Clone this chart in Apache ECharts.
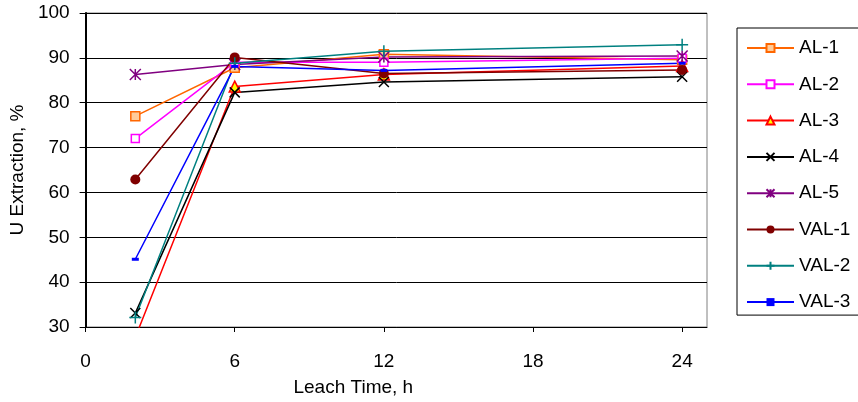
<!DOCTYPE html>
<html>
<head>
<meta charset="utf-8">
<script src="https://cdn.jsdelivr.net/npm/echarts@6/dist/echarts.min.js"></script>
<style>
  html, body { margin: 0; padding: 0; background: #fff; }
  #chart { width: 858px; height: 402px; }
</style>
</head>
<body>
<div id="chart"></div>
<script>
// leach times (h)
const hours = [2, 6, 12, 24];

// U extraction, %
const al1 = [77, 87.8, 90.8, 89.6];
const al2 = [72, 89, 89, 89.9];
const al3 = [27.7, 83.6, 86.3, 88.2];
const al4 = [33.1, 82.3, 84.6, 85.8];
const al5 = [86.3, 88.5, 90.2, 90.4];
const val1 = [62.9, 90.1, 86.5, 87.3];
const val2 = [32.1, 88.8, 91.5, 92.9];
const val3 = [45.1, 88.1, 87.2, 88.8];

const FONT = 'Liberation Sans, Arial, sans-serif';

function pairs(vals) {
  return hours.map((h, i) => [h, vals[i]]);
}

function makeSeries(name, vals, line, sym) {
  return {
    name: name,
    type: 'line',
    data: pairs(vals),
    symbol: sym.symbol,
    symbolSize: sym.size,
    symbolKeepAspect: true,
    lineStyle: { color: line, width: 1.5 },
    itemStyle: {
      color: sym.fill,
      borderColor: sym.border || line,
      borderWidth: sym.bw == null ? 1.5 : sym.bw,
    },
    emphasis: { disabled: true },
  };
}

const crossPath = 'path://M0,0L10,10M10,0L0,10';
const starPath = 'path://M0,0L10,10M10,0L0,10M5,0L5,10';
const plusPath = 'path://M5,0L5,10M0,5L10,5';
const dashPath = 'path://M0,0L7,0L7,3L0,3Z';

const series = [
  makeSeries('AL-1', al1, '#FF6600', { symbol: 'rect', size: 9, fill: '#FFCC99' }),
  makeSeries('AL-2', al2, '#FF00FF', { symbol: 'rect', size: 8, fill: '#FFFFFF' }),
  makeSeries('AL-3', al3, '#FF0000', { symbol: 'triangle', size: 11, fill: '#FFFF00' }),
  makeSeries('AL-4', al4, '#000000', { symbol: crossPath, size: 10, fill: '#000000' }),
  makeSeries('AL-5', al5, '#800080', { symbol: starPath, size: 11, fill: '#800080' }),
  makeSeries('VAL-1', val1, '#800000', { symbol: 'circle', size: 10, fill: '#800000', bw: 0 }),
  makeSeries('VAL-2', val2, '#008080', { symbol: plusPath, size: 12, fill: '#008080' }),
  makeSeries('VAL-3', val3, '#0000FF', { symbol: dashPath, size: 7, fill: '#0000FF', bw: 0 }),
];

const chart = echarts.init(document.getElementById('chart'));
chart.setOption({
  backgroundColor: '#fff',
  animation: false,
  textStyle: { fontFamily: FONT },
  grid: {
    left: 85,
    right: 151,
    top: 13,
    bottom: 74,
    show: true,
    borderColor: '#808080',
    borderWidth: 1,
  },
  legend: {
    orient: 'vertical',
    left: 737,
    top: 28,
    padding: [10, 40, 3, 9],
    itemWidth: 47,
    itemHeight: 10,
    itemGap: 16.3,
    borderColor: '#000',
    borderWidth: 1,
    backgroundColor: '#fff',
    textStyle: { fontSize: 19, color: '#000', fontFamily: FONT, lineHeight: 20 },
    data: series.map(s => s.name),
  },
  xAxis: {
    type: 'value',
    min: 0,
    max: 25,
    interval: 6,
    name: 'Leach Time, h',
    nameLocation: 'middle',
    nameGap: 51,
    nameTextStyle: { fontSize: 19, color: '#000', padding: [0, 86, 0, 0] },
    axisLine: { show: true, onZero: false, lineStyle: { color: '#000', width: 1 } },
    axisTick: { show: true, length: 5, lineStyle: { color: '#000' } },
    axisLabel: { fontSize: 19, color: '#000', margin: 25, showMaxLabel: false },
    splitLine: { show: false },
  },
  yAxis: {
    type: 'value',
    min: 30,
    max: 100,
    interval: 10,
    name: 'U Extraction, %',
    nameLocation: 'middle',
    nameGap: 49,
    nameTextStyle: { fontSize: 19, color: '#000' },
    axisLine: { show: true, lineStyle: { color: '#000', width: 2 } },
    axisTick: { show: true, length: 6, lineStyle: { color: '#000' } },
    axisLabel: { fontSize: 19, color: '#000', margin: 16 },
    splitLine: { show: true, lineStyle: { color: '#000', width: 1 } },
  },
  series: series,
});
</script>
</body>
</html>
